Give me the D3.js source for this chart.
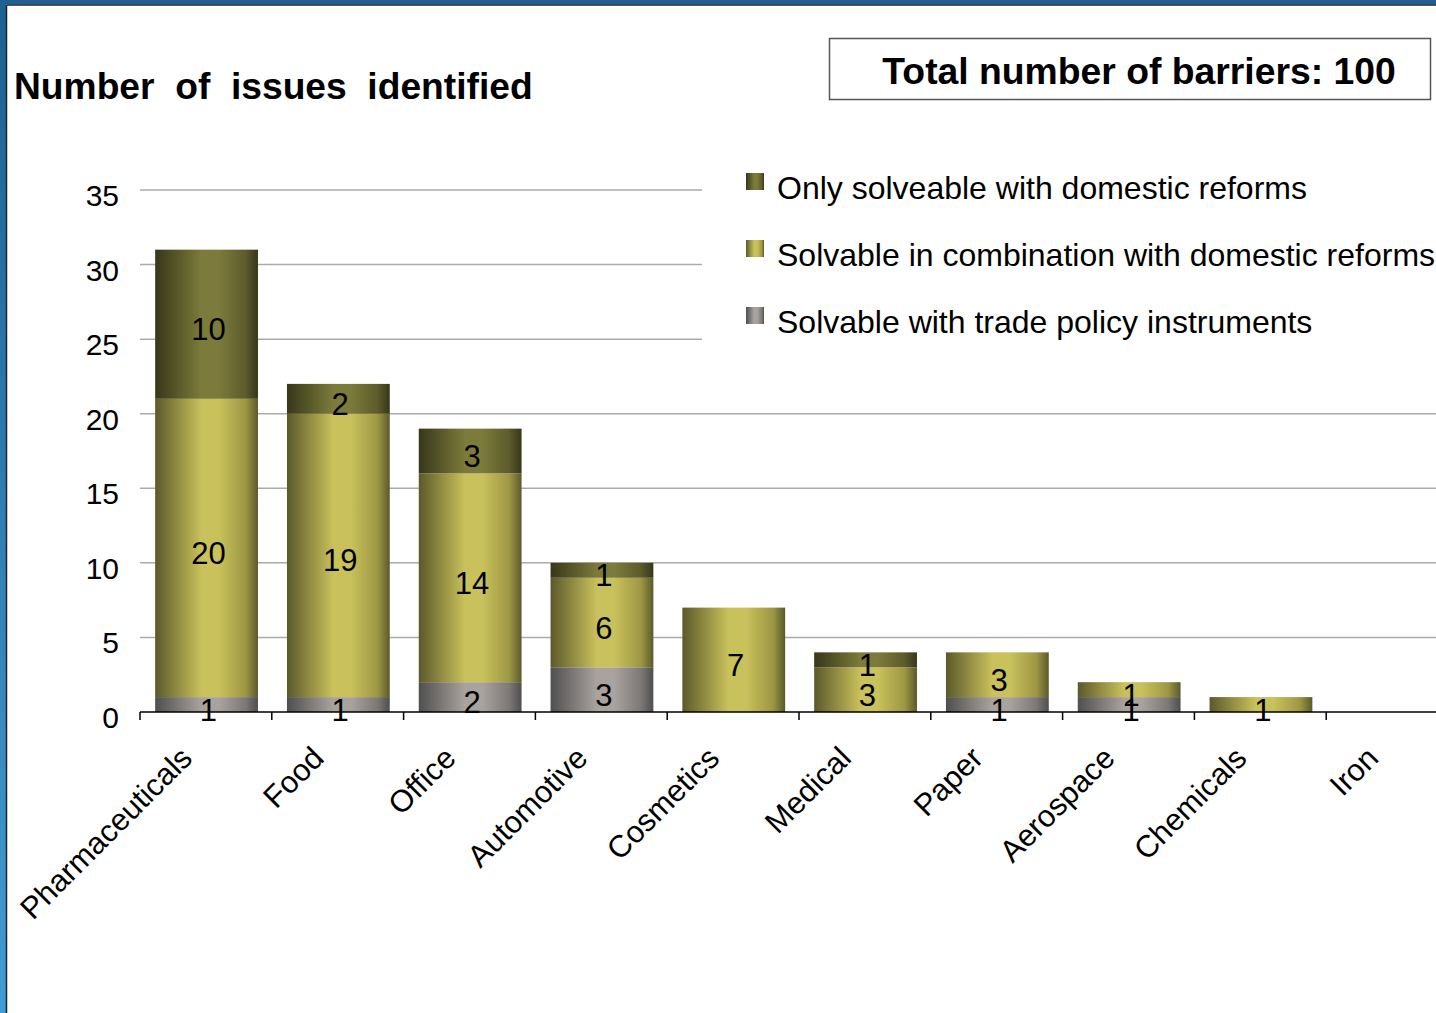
<!DOCTYPE html>
<html>
<head>
<meta charset="utf-8">
<script src="https://cdn.jsdelivr.net/npm/d3@7"></script>
<style>
  html, body { margin: 0; padding: 0; background: #fff; }
  svg { display: block; font-family: "Liberation Sans", Arial, sans-serif; }
</style>
</head>
<body>
<svg id="chart" width="1436" height="1013"></svg>
<script>
// ---- data ----
const categories = ["Pharmaceuticals", "Food", "Office", "Automotive", "Cosmetics", "Medical", "Paper", "Aerospace", "Chemicals", "Iron"];
const seriesNames = ["Solvable with trade policy instruments", "Solvable in combination with domestic reforms", "Only solveable with domestic reforms"];
const tradeValues    = [1, 1, 2, 3, 0, 0, 1, 1, 0, 0];
const comboValues    = [20, 19, 14, 6, 7, 3, 3, 1, 1, 0];
const domesticValues = [10, 2, 3, 1, 0, 1, 0, 0, 0, 0];
const yTicks = [0, 5, 10, 15, 20, 25, 30, 35];
const legendOrder = ["Only solveable with domestic reforms", "Solvable in combination with domestic reforms", "Solvable with trade policy instruments"];
const titleText = "Number  of  issues  identified";
const totalText = "Total number of barriers: 100";

// ---- setup ----
const svg = d3.select("#chart");
const W = 1436, H = 1013;

const colors = {
  "Solvable with trade policy instruments": { dark: "#4f4f4f", light: "#a9a39f", mid: "#7c7876" },
  "Solvable in combination with domestic reforms": { dark: "#5b592b", light: "#c9c15b", mid: "#9d9744" },
  "Only solveable with domestic reforms": { dark: "#37371a", light: "#7c7b3b", mid: "#5c5b2b" }
};
const keyId = n => "g" + seriesNames.indexOf(n);

const defs = svg.append("defs");
seriesNames.forEach(n => {
  const c = colors[n];
  const g = defs.append("linearGradient").attr("id", keyId(n)).attr("x1", 0).attr("x2", 1).attr("y1", 0).attr("y2", 0);
  g.append("stop").attr("offset", "0%").attr("stop-color", c.dark);
  g.append("stop").attr("offset", "45%").attr("stop-color", c.light);
  g.append("stop").attr("offset", "62%").attr("stop-color", c.light);
  g.append("stop").attr("offset", "88%").attr("stop-color", c.mid);
  g.append("stop").attr("offset", "100%").attr("stop-color", c.dark);
});
const frameGrad = defs.append("linearGradient").attr("id", "frameGrad").attr("x1", 0).attr("x2", 0).attr("y1", 0).attr("y2", 1);
frameGrad.append("stop").attr("offset", "0%").attr("stop-color", "#1c6192");
frameGrad.append("stop").attr("offset", "100%").attr("stop-color", "#409cd4");

// white background
svg.append("rect").attr("width", W).attr("height", H).attr("fill", "#fff");

// scales
const step = 131.8;
const x = d3.scaleBand().domain(categories).range([140, 140 + step * categories.length]).padding(0);
const y = d3.scaleLinear().domain([0, 35]).range([712, 190]);
const barInset = 0.115, barFrac = 0.78;

// gridlines
svg.append("g").selectAll("line").data(yTicks.filter(t => t > 0)).join("line")
  .attr("x1", 140).attr("x2", W)
  .attr("y1", d => y(d)).attr("y2", d => y(d))
  .attr("stroke", "#ababab").attr("stroke-width", 1.5);

// y tick labels
svg.append("g").selectAll("text").data(yTicks).join("text")
  .attr("x", 119).attr("y", d => y(d) + 16)
  .attr("text-anchor", "end").attr("font-size", 30).attr("fill", "#000")
  .text(d => d);

// stacked bars
const rows = categories.map((c, i) => ({
  cat: c,
  "Solvable with trade policy instruments": tradeValues[i],
  "Solvable in combination with domestic reforms": comboValues[i],
  "Only solveable with domestic reforms": domesticValues[i]
}));
const stack = d3.stack().keys(seriesNames)(rows);

const barsG = svg.append("g");
stack.forEach(layer => {
  barsG.append("g").attr("fill", `url(#${keyId(layer.key)})`)
    .selectAll("rect").data(layer.filter(d => d[1] - d[0] > 0)).join("rect")
    .attr("x", d => x(d.data.cat) + x.bandwidth() * barInset)
    .attr("width", x.bandwidth() * barFrac)
    .attr("y", d => y(d[1]))
    .attr("height", d => y(d[0]) - y(d[1]));
});

// axis line and ticks
const axisG = svg.append("g").attr("transform", `translate(0,${y(0)})`);
axisG.append("line").attr("x1", 140).attr("x2", W).attr("y1", 0).attr("y2", 0).attr("stroke", "#000").attr("stroke-width", 1.5);
axisG.selectAll("line.tick").data(categories).join("line").attr("class", "tick")
  .attr("x1", d => x(d)).attr("x2", d => x(d)).attr("y1", 0).attr("y2", 8)
  .attr("stroke", "#000").attr("stroke-width", 1.5);

// segment labels
const labelsG = svg.append("g");
stack.forEach(layer => {
  labelsG.append("g").selectAll("text").data(layer.filter(d => d[1] - d[0] > 0)).join("text")
    .attr("x", d => x(d.data.cat) + x.bandwidth() / 2 + 2.5)
    .attr("y", d => (y(d[0]) + y(d[1])) / 2 + 16)
    .attr("text-anchor", "middle").attr("font-size", 31).attr("fill", "#000")
    .text(d => d[1] - d[0]);
});

// category labels
svg.append("g").selectAll("text").data(categories).join("text")
  .attr("transform", d => `translate(${x(d) + x.bandwidth() / 2 - 12},760) rotate(-45)`)
  .attr("text-anchor", "end").attr("font-size", 30.8).attr("fill", "#000")
  .text(d => d);

// legend (white box covering gridlines)
const leg = svg.append("g");
leg.append("rect").attr("x", 702).attr("y", 150).attr("width", W - 702).attr("height", 200).attr("fill", "#fff");
legendOrder.forEach((n, i) => {
  const ly = 173 + i * 67;
  leg.append("rect").attr("x", 746).attr("y", ly).attr("width", 18).attr("height", 17).attr("fill", `url(#${keyId(n)})`);
  leg.append("text").attr("x", 777).attr("y", ly + 26).attr("font-size", 32).attr("fill", "#000").text(n);
});

// title
svg.append("text").attr("x", 14).attr("y", 99).attr("font-size", 37.2).attr("font-weight", "bold")
  .attr("fill", "#000").style("white-space", "pre").text(titleText);

// total box
svg.append("rect").attr("x", 829.5).attr("y", 38.5).attr("width", 601).attr("height", 61)
  .attr("fill", "#fff").attr("stroke", "#555").attr("stroke-width", 1.5);
svg.append("text").attr("x", 1139).attr("y", 84).attr("text-anchor", "middle")
  .attr("font-size", 37.3).attr("font-weight", "bold").attr("fill", "#000").text(totalText);

// frame
svg.append("rect").attr("x", 0).attr("y", 0).attr("width", W).attr("height", 4.5).attr("fill", "#1c6192");
svg.append("rect").attr("x", 0).attr("y", 0).attr("width", 6).attr("height", H).attr("fill", "url(#frameGrad)");
svg.append("line").attr("x1", 6.5).attr("x2", W).attr("y1", 5).attr("y2", 5).attr("stroke", "#222").attr("stroke-width", 1.5);
svg.append("line").attr("x1", 6.5).attr("x2", 6.5).attr("y1", 5).attr("y2", H).attr("stroke", "#222").attr("stroke-width", 1.5);
</script>
</body>
</html>
